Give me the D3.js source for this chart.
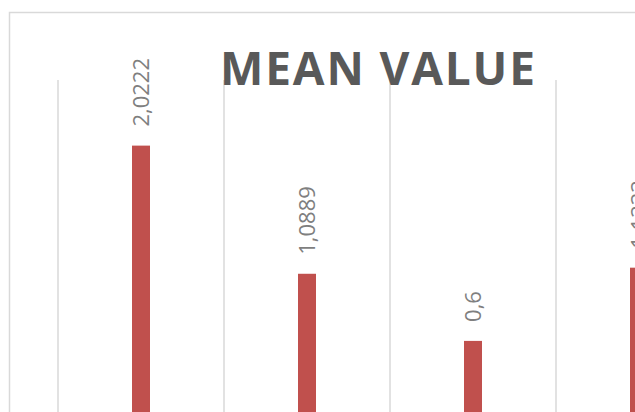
<!DOCTYPE html>
<html>
<head>
<meta charset="utf-8">
<script src="https://cdn.jsdelivr.net/npm/d3@7"></script>
<style>
  body { margin: 0; background: #fff; }
  svg { display: block; }
</style>
</head>
<body>
<svg width="635" height="412"></svg>
<script>
// values (category names are cut off in the reference)
const categories = ["Group 1", "Group 2", "Group 3", "Group 4"];
const meanValues = [2.0222, 1.0889, 0.6, 1.1333];
const labelText = ["2,0222", "1,0889", "0,6", "1,1333"];

const svg = d3.select("svg");

// chart frame, runs off the right and bottom edges
svg.append("rect")
    .attr("x", 9.5).attr("y", 12.5)
    .attr("width", 760).attr("height", 460)
    .attr("fill", "none")
    .attr("stroke", "#d9d9d9")
    .attr("stroke-width", 1.5);

let x = d3.scaleBand()
    .domain(categories)
    .range([58, 58 + 166 * categories.length])
    .paddingInner(0).paddingOuter(0);

let y = d3.scaleLinear()
    .domain([0, 2.5])
    .range([423.3, 80]);

// vertical category gridlines
svg.append("g")
  .selectAll("line")
  .data(categories)
  .join("line")
    .attr("x1", d => x(d)).attr("x2", d => x(d))
    .attr("y1", y(2.5)).attr("y2", y(0))
    .attr("stroke", "#d9d9d9")
    .attr("stroke-width", 1.5);

const barW = 18;

svg.append("g")
  .selectAll("rect")
  .data(meanValues)
  .join("rect")
    .attr("x", (d, i) => x(categories[i]) + x.bandwidth() / 2 - barW / 2)
    .attr("y", d => y(d))
    .attr("width", barW)
    .attr("height", d => y(0) - y(d))
    .attr("fill", "#c0504d");

// rotated data labels
svg.append("g")
  .selectAll("text")
  .data(meanValues)
  .join("text")
    .attr("transform", (d, i) => {
      let cx = x(categories[i]) + x.bandwidth() / 2 + 7.5;
      return `translate(${cx},${y(d) - 19}) rotate(-90)`;
    })
    .attr("text-anchor", "start")
    .attr("font-family", "'Open Sans', sans-serif")
    .attr("font-size", 22)
    .attr("fill", "#7f7f7f")
    .text((d, i) => labelText[i]);

svg.append("text")
    .attr("x", 220)
    .attr("y", 85)
    .attr("textLength", 315)
    .attr("lengthAdjust", "spacing")
    .attr("font-family", "'Open Sans', sans-serif")
    .attr("font-weight", "bold")
    .attr("font-size", 46)
    .attr("fill", "#595959")
    .text("MEAN VALUE");
</script>
</body>
</html>
